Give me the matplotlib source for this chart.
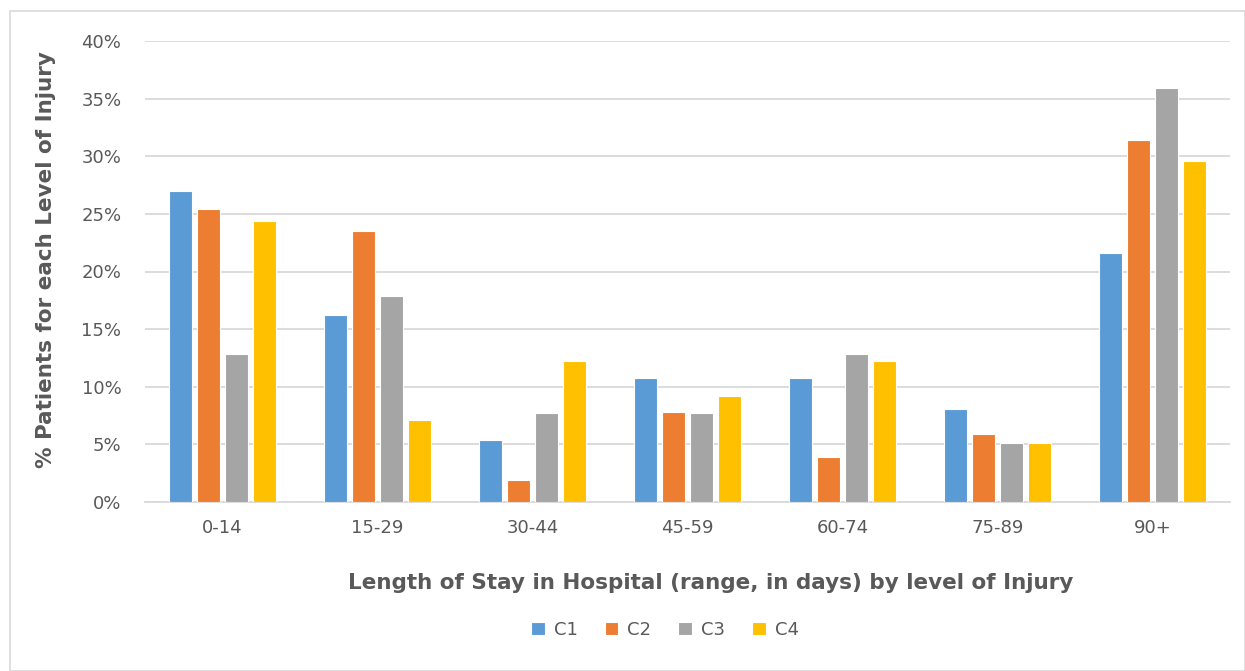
import matplotlib.pyplot as plt
import numpy as np
from matplotlib.patches import Rectangle

# data (percent of patients)
categories = ["0-14", "15-29", "30-44", "45-59", "60-74", "75-89", "90+"]
series_names = ["C1", "C2", "C3", "C4"]
c1 = [27.0, 16.2, 5.4, 10.8, 10.8, 8.1, 21.6]
c2 = [25.4, 23.5, 1.9, 7.8, 3.9, 5.9, 31.4]
c3 = [12.8, 17.9, 7.7, 7.7, 12.8, 5.1, 35.9]
c4 = [24.4, 7.1, 12.2, 9.2, 12.2, 5.1, 29.6]
y_ticks = [0, 5, 10, 15, 20, 25, 30, 35, 40]

colors = ["#5B9BD5", "#ED7D31", "#A5A5A5", "#FFC000"]
text_color = "#595959"
grid_color = "#D9D9D9"

plt.rcParams['font.family'] = ['DejaVu Sans']

fig = plt.figure(figsize=(12.45, 6.71), dpi=100)
# light frame round the chart like the Excel chart area
fig.patches.append(Rectangle((10 / 1245, 0), 1 - 10 / 1245, 1 - 11 / 671,
                             transform=fig.transFigure, fill=False,
                             edgecolor="#D9D9D9", linewidth=1.2))

ax = fig.add_axes([145 / 1245, 1 - 502 / 671, 1085 / 1245, 461 / 671])

x = np.arange(len(categories))
pitch = 0.18
width = 0.15
for i, (vals, name) in enumerate(zip([c1, c2, c3, c4], series_names)):
    offs = (i - 1.5) * pitch
    ax.bar(x + offs, vals, width=width, color=colors[i], edgecolor="white",
           linewidth=0.8, label=name, zorder=3)

ax.set_xlim(-0.5, len(categories) - 0.5)
ax.set_ylim(0, 40)
ax.set_yticks(y_ticks)
ax.set_yticklabels([f"{t}%" for t in y_ticks])
ax.set_xticks(x)
ax.set_xticklabels(categories)
ax.tick_params(axis="both", length=0, labelsize=13, colors=text_color)
ax.tick_params(axis="x", pad=12)
ax.tick_params(axis="y", pad=17)

ax.yaxis.grid(True, color=grid_color, linewidth=1.3, zorder=0)
for s in ["top", "right", "left"]:
    ax.spines[s].set_visible(False)
ax.spines["bottom"].set_color(grid_color)
ax.spines["bottom"].set_linewidth(1.3)

ax.set_xlabel("Length of Stay in Hospital (range, in days) by level of Injury",
              fontsize=15.5, fontweight="bold", color=text_color, labelpad=26)
ax.set_ylabel("% Patients for each Level of Injury", fontsize=15.5,
              fontweight="bold", color=text_color, labelpad=18)
ax.xaxis.label.set_x(0.521)
ax.yaxis.label.set_y(0.525)

leg = ax.legend(loc="center", bbox_to_anchor=(665 / 1245, 1 - 630 / 671),
                bbox_transform=fig.transFigure, ncol=4, frameon=False,
                fontsize=13, handlelength=0.75, handleheight=0.75,
                handletextpad=0.5, columnspacing=1.5)
for t in leg.get_texts():
    t.set_color(text_color)

fig.savefig("out.png", dpi=100)
